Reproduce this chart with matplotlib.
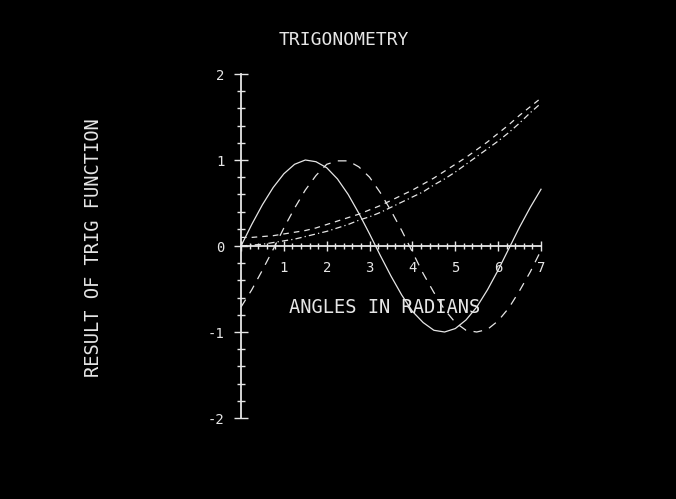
import matplotlib
matplotlib.use("Agg")
import numpy as np
import matplotlib.pyplot as plt
from matplotlib.ticker import FixedLocator, FixedFormatter

plt.rcParams['axes.unicode_minus'] = False
plt.rcParams['font.family'] = ['DejaVu Sans Mono']

# angles in radians, sampled every quarter radian
angles = [0.0, 0.25, 0.5, 0.75, 1.0, 1.25, 1.5, 1.75, 2.0, 2.25, 2.5, 2.75,
          3.0, 3.25, 3.5, 3.75, 4.0, 4.25, 4.5, 4.75, 5.0, 5.25, 5.5, 5.75,
          6.0, 6.25, 6.5, 6.75, 7.0]

sine = [0.00, 0.25, 0.48, 0.68, 0.84, 0.95, 1.00, 0.98, 0.91, 0.78, 0.60, 0.38,
        0.14, -0.11, -0.35, -0.57, -0.76, -0.89, -0.98, -1.00, -0.96, -0.86,
        -0.71, -0.51, -0.28, -0.03, 0.22, 0.45, 0.66]

sine_shifted = [-0.71, -0.51, -0.28, -0.04, 0.21, 0.44, 0.65, 0.82, 0.95, 0.99,
                0.99, 0.92, 0.80, 0.62, 0.41, 0.18, -0.07, -0.32, -0.54, -0.74,
                -0.89, -0.98, -1.00, -0.97, -0.87, -0.72, -0.52, -0.30, -0.05]

upper_curve = [0.10, 0.10, 0.11, 0.12, 0.14, 0.16, 0.18, 0.21, 0.25, 0.29, 0.33,
               0.37, 0.42, 0.47, 0.53, 0.59, 0.65, 0.72, 0.79, 0.87, 0.95, 1.03,
               1.12, 1.21, 1.31, 1.41, 1.52, 1.62, 1.72]

lower_curve = [0.00, 0.01, 0.02, 0.04, 0.06, 0.08, 0.11, 0.14, 0.17, 0.21, 0.25,
               0.30, 0.34, 0.39, 0.45, 0.51, 0.57, 0.63, 0.71, 0.78, 0.86, 0.95,
               1.04, 1.13, 1.22, 1.32, 1.43, 1.55, 1.66]

x_ticks = [0, 1, 2, 3, 4, 5, 6, 7]
x_tick_labels = ['', '1', '2', '3', '4', '5', '6', '7']
y_ticks = [-2, -1, 0, 1, 2]
y_tick_labels = ['-2', '-1', '0', '1', '2']

fg = '#e6e6e6'

fig = plt.figure(figsize=(6.76, 4.99), dpi=100, facecolor='black')
ax = fig.add_axes([0, 0, 1, 1], facecolor='black')

# pixel mapping: x=0 at 241px, 42.86 px/unit ; y=0 at 246px, 86 px/unit
ax.set_xlim(-241 / 42.86, (676 - 241) / 42.86)
ax.set_ylim(-(499 - 246) / 86.0, 246 / 86.0)

ax.plot(angles, sine, color=fg, lw=0.9)
ax.plot(angles, sine_shifted, color=fg, lw=0.9, dashes=(7, 6))
ax.plot(angles, upper_curve, color=fg, lw=0.9, dashes=(4.5, 4))
ax.plot(angles, lower_curve, color=fg, lw=0.9, dashes=(5, 2.5, 1, 2.5))

for side in ['top', 'right']:
    ax.spines[side].set_visible(False)
ax.spines['left'].set_position(('data', 0))
ax.spines['bottom'].set_position(('data', 0))
ax.spines['left'].set_bounds(-2, 2)
ax.spines['bottom'].set_bounds(0, 7)
for side in ['left', 'bottom']:
    ax.spines[side].set_color(fg)
    ax.spines[side].set_linewidth(1.3)

ax.xaxis.set_major_locator(FixedLocator(x_ticks))
ax.xaxis.set_major_formatter(FixedFormatter(x_tick_labels))
ax.xaxis.set_minor_locator(FixedLocator(np.arange(0, 7.01, 0.2)))
ax.yaxis.set_major_locator(FixedLocator(y_ticks))
ax.yaxis.set_major_formatter(FixedFormatter(y_tick_labels))
ax.yaxis.set_minor_locator(FixedLocator(np.arange(-2, 2.01, 0.2)))

ax.tick_params(axis='x', which='major', direction='inout', length=7.5, width=1,
               color=fg, labelcolor=fg, labelsize=10, pad=7)
ax.tick_params(axis='x', which='minor', direction='inout', length=4.5, width=1,
               color=fg)
ax.tick_params(axis='y', which='major', direction='inout', length=9.5, width=1,
               color=fg, labelcolor=fg, labelsize=10, pad=7)
ax.tick_params(axis='y', which='minor', direction='inout', length=6, width=1,
               color=fg)

ax.text(2.4, 2.4, 'TRIGONOMETRY', color=fg, fontsize=13,
        ha='center', va='center')
ax.text(3.34, -0.71, 'ANGLES IN RADIANS', color=fg, fontsize=13.5,
        ha='center', va='center')
ax.text(-3.45, -0.02, 'RESULT OF TRIG FUNCTION', color=fg, fontsize=13.5,
        ha='center', va='center', rotation=90)

fig.savefig('out.png', dpi=100, facecolor='black')
